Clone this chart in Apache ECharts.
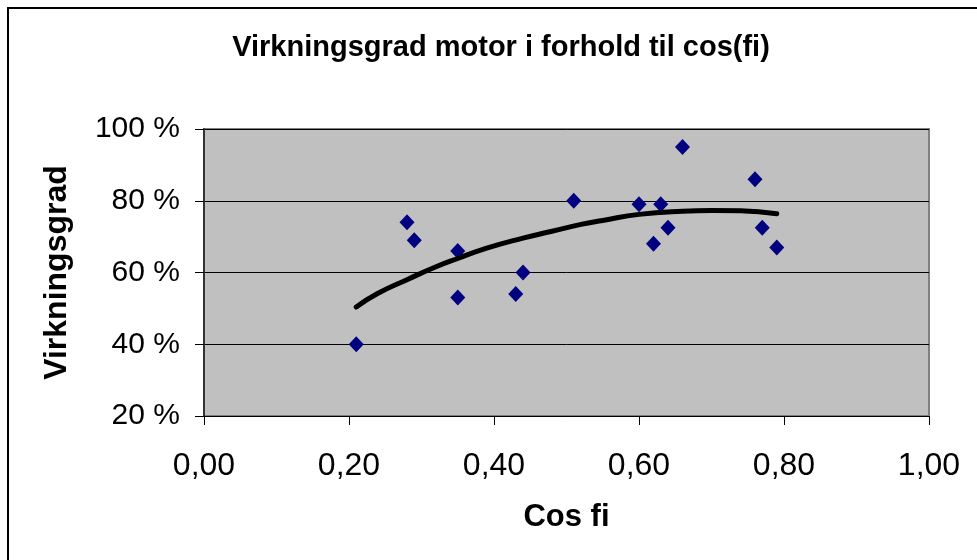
<!DOCTYPE html>
<html lang="no">
<head>
    <meta charset="UTF-8">
    <title>Virkningsgrad motor</title>
    <script src="https://cdn.jsdelivr.net/npm/echarts@6/dist/echarts.min.js"></script>
    <style>
        html, body { margin: 0; padding: 0; background: #fff; }
    </style>
</head>
<body>
<div id="main" style="width: 977px;height:560px;"></div>

<script type="text/javascript">
    // målte punkter: cos fi og virkningsgrad (%)
    var cosFi = [0.21, 0.28, 0.29, 0.35, 0.35, 0.43, 0.44, 0.51, 0.60, 0.62, 0.63, 0.64, 0.66, 0.76, 0.77, 0.79];
    var virkningsgrad = [40, 74, 69, 66, 53, 54, 60, 80, 79, 68, 79, 72.5, 95, 86, 72.5, 67];

    // trendlinje (2. grads), lest av bildet
    var trendX = [0.21, 0.24, 0.28, 0.32, 0.35, 0.39, 0.44, 0.48, 0.52, 0.55, 0.60, 0.66, 0.70, 0.74, 0.79];
    var trendY = [50.4, 54.2, 58.0, 61.6, 63.9, 66.8, 69.6, 71.5, 73.4, 74.5, 76.2, 77.1, 77.3, 77.2, 76.4];

    var xTicks = [0, 0.2, 0.4, 0.6, 0.8, 1.0];
    var yTicks = [20, 40, 60, 80, 100];

    var points = cosFi.map(function (x, i) { return [x, virkningsgrad[i]]; });
    var trend = trendX.map(function (x, i) { return [x, trendY[i]]; });

    var font = '"Liberation Sans", Arial, sans-serif';
    var myChart = echarts.init(document.getElementById('main'));
    var option = {
        animation: false,
        backgroundColor: '#fff',
        title: {
            text: 'Virkningsgrad motor i forhold til cos(fi)',
            left: 496,
            textAlign: 'center',
            top: 28,
            textStyle: { fontFamily: font, fontSize: 29, fontWeight: 'bold', color: '#000' }
        },
        graphic: [{
            type: 'rect',
            shape: { x: 8, y: 8, width: 1000, height: 600 },
            style: { fill: 'none', stroke: '#000', lineWidth: 2 },
            silent: true
        }],
        grid: {
            left: 204,
            top: 129,
            right: 48,
            bottom: 144,
            show: true,
            backgroundColor: '#C0C0C0',
            borderColor: '#808080',
            borderWidth: 2
        },
        xAxis: {
            type: 'value',
            min: xTicks[0],
            max: xTicks[xTicks.length - 1],
            interval: 0.2,
            name: 'Cos fi',
            nameLocation: 'middle',
            nameGap: 86,
            nameTextStyle: { fontFamily: font, fontSize: 31, fontWeight: 'bold', color: '#000' },
            axisLine: { show: true, lineStyle: { color: '#000', width: 1 } },
            axisTick: { show: true, inside: false, length: 9, lineStyle: { color: '#000' } },
            axisLabel: {
                margin: 34,
                fontFamily: font,
                fontSize: 32,
                color: '#000',
                formatter: function (v) { return v.toFixed(2).replace('.', ','); }
            },
            splitLine: { show: false }
        },
        yAxis: {
            type: 'value',
            min: yTicks[0],
            max: yTicks[yTicks.length - 1],
            interval: 20,
            name: 'Virkningsgrad',
            nameLocation: 'middle',
            nameGap: 131,
            nameRotate: 90,
            nameTextStyle: { fontFamily: font, fontSize: 32, fontWeight: 'bold', color: '#000' },
            axisLine: { show: true, lineStyle: { color: '#333', width: 2 } },
            axisTick: { show: true, inside: false, length: 9, lineStyle: { color: '#000' } },
            axisLabel: {
                margin: 24,
                fontFamily: font,
                fontSize: 30,
                color: '#000',
                formatter: '{value} %'
            },
            splitLine: { show: true, lineStyle: { color: '#000', width: 1 } }
        },
        series: [
            {
                name: 'Virkningsgrad',
                type: 'scatter',
                data: points,
                symbol: 'diamond',
                symbolSize: [15, 16],
                itemStyle: { color: '#000080', opacity: 1 },
                z: 3
            },
            {
                name: 'Trend',
                type: 'line',
                data: trend,
                smooth: true,
                showSymbol: false,
                lineStyle: { color: '#000', width: 5, cap: 'round' },
                z: 4
            }
        ]
    };
    myChart.setOption(option);
</script>
</body>
</html>
